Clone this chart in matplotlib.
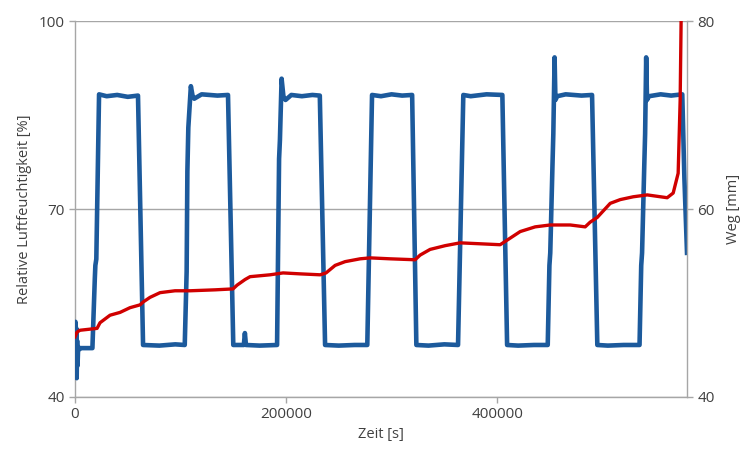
import matplotlib
matplotlib.use("Agg")
import matplotlib.pyplot as plt

plt.rcParams['font.family'] = ['Open Sans', 'DejaVu Sans']

# Relative humidity (left axis), time in seconds
t_rh = [0, 400, 800, 1200, 1600, 2000, 2400, 3000, 4000, 5000, 16500,
        18800, 19300, 20200, 22800, 30000, 40000, 50000, 59700,
        64500, 80000, 95000, 104000,
        105800, 106500, 107400, 109800, 111500, 113000, 120000, 135000, 145000,
        150000, 160000, 161000, 162000, 175000, 191500,
        193400, 194200, 195800, 197500, 199500, 205000, 215000, 225000, 232000,
        237000, 250000, 265000, 277000,
        281500, 290000, 300000, 310000, 319500,
        323500, 335000, 350000, 363000,
        368000, 375000, 390000, 405000,
        409500, 420000, 435000, 448000,
        449600, 450400, 452500, 453300, 454500, 455300, 457000, 465000, 480000, 490000,
        495000, 505000, 520000, 535000,
        536600, 537400, 539500, 540300, 541300, 542100, 544000, 555000, 565000, 575500,
        577500, 580000]
rh = [50, 52, 44, 51, 43, 49, 45, 48, 47.6, 47.8, 47.8,
      59, 61, 62, 88.3, 88.0, 88.2, 87.9, 88.1,
      48.3, 48.2, 48.4, 48.3,
      60, 76, 83, 89.6, 88.0, 87.6, 88.3, 88.1, 88.2,
      48.3, 48.3, 50.2, 48.3, 48.2, 48.3,
      78, 81, 90.8, 88.0, 87.4, 88.2, 88.0, 88.2, 88.1,
      48.3, 48.2, 48.3, 48.3,
      88.2, 88.0, 88.3, 88.1, 88.2,
      48.3, 48.2, 48.4, 48.3,
      88.2, 88.0, 88.3, 88.2,
      48.3, 48.2, 48.3, 48.3,
      61, 63, 77, 82, 94.2, 87.4, 88.0, 88.3, 88.1, 88.2,
      48.3, 48.2, 48.3, 48.3,
      61, 63, 77, 82, 94.2, 87.4, 88.0, 88.3, 88.1, 88.3,
      75, 63]

# Displacement (right axis)
t_weg = [0, 1900, 4700, 20900, 23700, 33200, 42700, 52100, 61600, 64500,
         71100, 80600, 94800, 109000, 132700, 149800, 153600, 161200, 165900,
         184900, 197200, 213300, 232300, 237900, 246500, 256000, 270200, 279700,
         298600, 322300, 327100, 336500, 350800, 365000, 383900, 402900, 412400,
         421900, 436100, 450300, 469300, 483500, 488200, 494900, 507200, 516700,
         529000, 542300, 561200, 566900, 571600, 573500, 574400, 575300]
weg = [46.4, 46.9, 47.1, 47.3, 47.9, 48.7, 49.0, 49.5, 49.8, 50.1,
       50.6, 51.1, 51.3, 51.3, 51.4, 51.5, 51.9, 52.5, 52.8,
       53.0, 53.2, 53.1, 53.0, 53.2, 54.0, 54.4, 54.7, 54.8,
       54.7, 54.6, 55.1, 55.7, 56.1, 56.4, 56.3, 56.2, 56.9,
       57.6, 58.1, 58.3, 58.3, 58.1, 58.6, 59.1, 60.6, 61.0,
       61.3, 61.5, 61.2, 61.7, 63.8, 71.6, 80.0, 85.0]

x_ticks = [0, 200000, 400000]
rh_ticks = [40, 70, 100]
weg_ticks = [40, 60, 80]

blue = "#1C5A9C"
red = "#D00000"
axis_gray = "#A6A6A6"
text_gray = "#404040"

fig = plt.figure(figsize=(7.47, 4.5), dpi=100)
ax = fig.add_axes([0.1004, 0.1178, 0.8193, 0.8355])
ax2 = ax.twinx()

ax.plot(t_rh, rh, color=blue, lw=3.3, solid_joinstyle='round', zorder=3)
ax2.plot(t_weg, weg, color=red, lw=2.4, solid_joinstyle='round', zorder=3)

ax.set_xlim(0, 580000)
ax.set_ylim(40, 100)
ax2.set_ylim(40, 80)

ax.set_xticks(x_ticks)
ax.set_xticklabels([str(v) for v in x_ticks])
ax.set_yticks(rh_ticks)
ax2.set_yticks(weg_ticks)

ax.yaxis.grid(True, color=axis_gray, lw=1)
ax.set_axisbelow(True)

for a in (ax, ax2):
    a.spines['top'].set_visible(False)
    for side in ('left', 'right', 'bottom'):
        a.spines[side].set_color(axis_gray)
        a.spines[side].set_linewidth(1)
    a.tick_params(colors=axis_gray, labelcolor=text_gray, labelsize=11,
                  length=4, width=1, direction='out')
ax.spines['right'].set_visible(False)
ax2.spines['left'].set_visible(False)
ax2.spines['bottom'].set_visible(False)

ax.set_xlabel("Zeit [s]", fontsize=10.5, color=text_gray, labelpad=3)
ax.set_ylabel("Relative Luftfeuchtigkeit [%]", fontsize=10.5, color=text_gray, labelpad=5)
ax2.set_ylabel("Weg [mm]", fontsize=10.5, color=text_gray, labelpad=8)

fig.savefig("out.png", dpi=100)
